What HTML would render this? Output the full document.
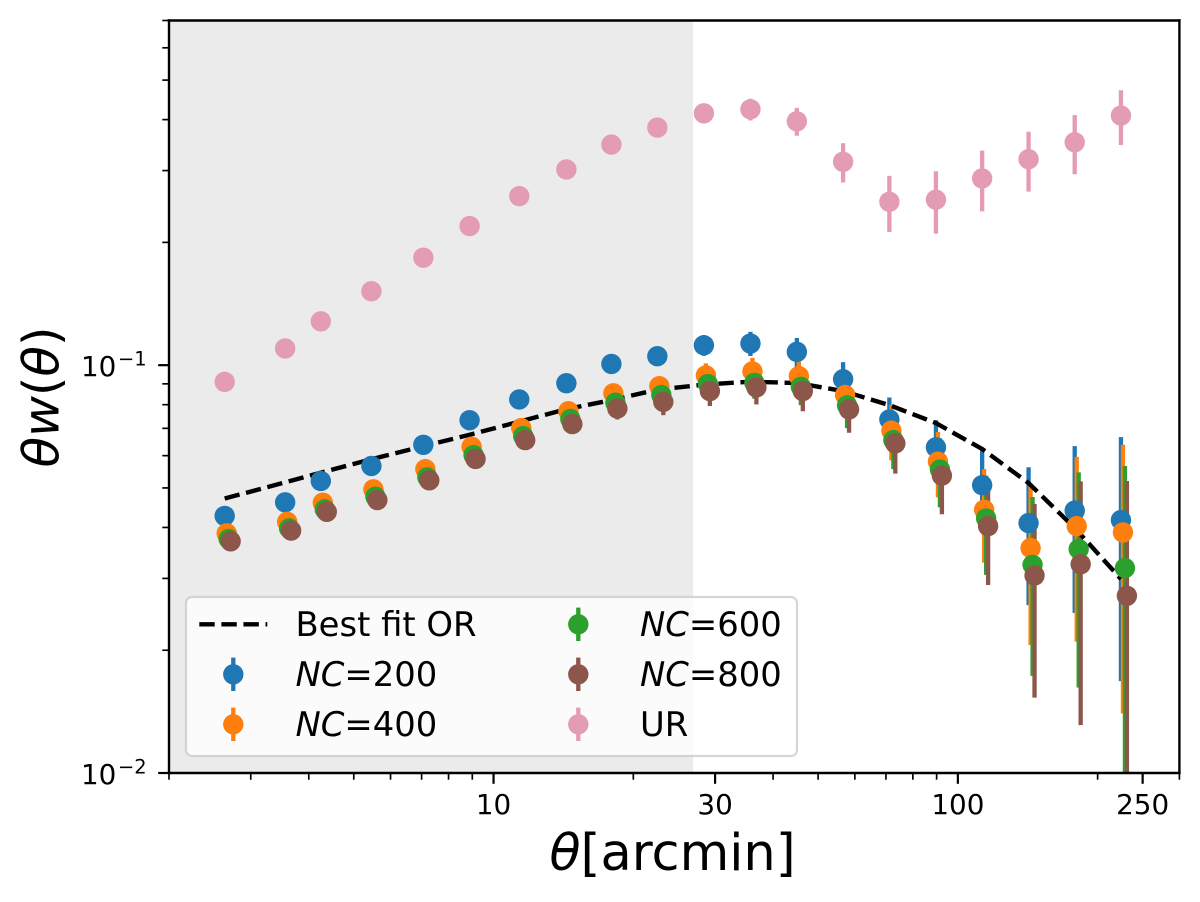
<!DOCTYPE html>
<html lang="en">
<head>
<meta charset="utf-8">
<title>Angular correlation chart</title>
<style>
  html, body { margin: 0; padding: 0; background: #fff; width: 1200px; height: 902px; overflow: hidden; }
  svg { display: block; overflow: hidden; }
  text { font-family: "DejaVu Sans", "Liberation Sans", sans-serif; fill: #000; }
</style>
</head>
<body>
<svg id="chart" xmlns="http://www.w3.org/2000/svg" width="1200" height="902" viewBox="0 0 1200 902">
  <defs>
    <clipPath id="plot-clip"><rect x="169" y="20.5" width="1010.4" height="752.5"></rect></clipPath>
  </defs>
  <rect x="0" y="0" width="1200" height="902" fill="#ffffff"></rect>
  <rect id="excluded-span" y="20.5" height="752.5" fill="#ebebeb"></rect>
  <g id="bars" clip-path="url(#plot-clip)"></g>
  <g id="fit" clip-path="url(#plot-clip)"></g>
  <g id="markers" clip-path="url(#plot-clip)"></g>
  <g id="ticks"></g>
  <g id="frame" fill="none" stroke="#000" stroke-width="2.4">
    <line x1="169" y1="19.3" x2="169" y2="774.2"></line>
    <line x1="1179.4" y1="19.3" x2="1179.4" y2="774.2"></line>
    <line x1="167.8" y1="20.5" x2="1180.6" y2="20.5"></line>
    <line x1="167.8" y1="773" x2="1180.6" y2="773"></line>
  </g>
  <text x="672.5" y="870" text-anchor="middle" font-size="51"><tspan font-style="italic">θ</tspan>[arcmin]</text>
  <text transform="translate(58.4 397) rotate(-90)" text-anchor="middle" font-size="50"><tspan font-style="italic">θw</tspan>(<tspan font-style="italic">θ</tspan>)</text>

  <g>
    <rect x="186" y="597" width="611" height="159" rx="6" ry="6" fill="#ffffff" fill-opacity="0.8" stroke="#cccccc" stroke-opacity="0.8" stroke-width="2.2"></rect>
    <g>
      <line x1="199.3" y1="624.3" x2="267.3" y2="624.3" stroke="#000" stroke-width="4.4" stroke-dasharray="15.4 6.67"></line>
      <text x="295.5" y="636" font-size="33.8">Best fit OR</text>
    </g>
    <g>
      <line x1="233.3" y1="657.6" x2="233.3" y2="691" stroke="#1f77b4" stroke-width="4.3"></line>
      <circle cx="233.3" cy="674.3" r="10.2" fill="#1f77b4"></circle>
      <text x="295.5" y="686" font-size="33.8"><tspan font-style="italic">NC</tspan>=200</text>
    </g>
    <g>
      <line x1="233.3" y1="707.6" x2="233.3" y2="741" stroke="#ff7f0e" stroke-width="4.3"></line>
      <circle cx="233.3" cy="724.3" r="10.2" fill="#ff7f0e"></circle>
      <text x="295.5" y="736" font-size="33.8"><tspan font-style="italic">NC</tspan>=400</text>
    </g>
    <g>
      <line x1="578.3" y1="607.6" x2="578.3" y2="641" stroke="#2ca02c" stroke-width="4.3"></line>
      <circle cx="578.3" cy="624.3" r="10.2" fill="#2ca02c"></circle>
      <text x="640" y="636" font-size="33.8"><tspan font-style="italic">NC</tspan>=600</text>
    </g>
    <g>
      <line x1="578.3" y1="657.6" x2="578.3" y2="691" stroke="#8c564b" stroke-width="4.3"></line>
      <circle cx="578.3" cy="674.3" r="10.2" fill="#8c564b"></circle>
      <text x="640" y="686" font-size="33.8"><tspan font-style="italic">NC</tspan>=800</text>
    </g>
    <g>
      <line x1="578.3" y1="707.6" x2="578.3" y2="741" stroke="#e49cb5" stroke-width="4.3"></line>
      <circle cx="578.3" cy="724.3" r="10.2" fill="#e49cb5"></circle>
      <text x="640" y="736" font-size="33.8">UR</text>
    </g>
  </g>
</svg>

<script>
const theta = [2.636, 3.558, 4.246, 5.457, 7.06, 8.88, 11.36, 14.35, 17.94, 22.53, 28.38, 35.75, 45.0, 56.6, 71.2, 89.7, 112.8, 142, 178.5, 224.5];

const bestFit = [0.0471, 0.0516, 0.0545, 0.0588, 0.0633, 0.0675, 0.0727, 0.0780, 0.0821, 0.0871, 0.0896, 0.0911, 0.0904, 0.0864, 0.0798, 0.0721, 0.0623, 0.0514, 0.0399, 0.0299];

const nc200 = [0.0427, 0.0461, 0.0520, 0.0566, 0.0638, 0.0733, 0.0824, 0.0903, 0.1007, 0.1052, 0.1119, 0.1130, 0.1078, 0.0924, 0.0736, 0.0629, 0.0508, 0.0410, 0.0440, 0.0417];
const nc200Err = [0.0012, 0.0012, 0.0012, 0.0013, 0.0014, 0.0016, 0.0018, 0.0020, 0.0028, 0.0035, 0.0065, 0.0077, 0.0088, 0.0093, 0.0097, 0.0104, 0.0114, 0.0152, 0.0193, 0.0249];

const nc400 = [0.0387, 0.0413, 0.0460, 0.0496, 0.0556, 0.0631, 0.0701, 0.0771, 0.0853, 0.0888, 0.0944, 0.0965, 0.0940, 0.0845, 0.0691, 0.0580, 0.0442, 0.0356, 0.0403, 0.0389];
const nc400Err = [0.0012, 0.0012, 0.0013, 0.0014, 0.0015, 0.0017, 0.0019, 0.0021, 0.0035, 0.0050, 0.0066, 0.0077, 0.0083, 0.0090, 0.0107, 0.0106, 0.0114, 0.0150, 0.0193, 0.0249];

const nc600 = [0.0375, 0.0398, 0.0443, 0.0476, 0.0531, 0.0602, 0.0670, 0.0738, 0.0809, 0.0845, 0.0899, 0.0905, 0.0885, 0.0797, 0.0655, 0.0555, 0.0421, 0.0324, 0.0354, 0.0318];
const nc600Err = [0.0012, 0.0012, 0.0013, 0.0014, 0.0015, 0.0017, 0.0019, 0.0021, 0.0030, 0.0040, 0.0060, 0.0078, 0.0087, 0.0096, 0.0099, 0.0107, 0.0115, 0.0151, 0.0192, 0.0248];

const nc800 = [0.0370, 0.0393, 0.0437, 0.0467, 0.0522, 0.0589, 0.0655, 0.0717, 0.0783, 0.0813, 0.0864, 0.0882, 0.0864, 0.0779, 0.0643, 0.0536, 0.0403, 0.0305, 0.0325, 0.0272];
const nc800Err = [0.0012, 0.0012, 0.0013, 0.0014, 0.0016, 0.0018, 0.0021, 0.0030, 0.0047, 0.0059, 0.0070, 0.0081, 0.0093, 0.0096, 0.0101, 0.0105, 0.0114, 0.0152, 0.0194, 0.0248];

const ur = [0.0910, 0.1099, 0.1281, 0.1518, 0.1835, 0.2193, 0.2597, 0.3019, 0.3475, 0.3825, 0.4146, 0.4241, 0.3963, 0.3153, 0.2516, 0.2545, 0.2870, 0.3199, 0.3520, 0.4093];
const urErr = [0.0010, 0.0012, 0.0014, 0.0017, 0.0021, 0.0026, 0.0032, 0.0038, 0.0045, 0.0055, 0.0210, 0.0260, 0.0311, 0.0348, 0.0395, 0.0443, 0.0487, 0.0535, 0.0582, 0.0628];

const xShadeLimit = 26.9;
const xMajorTicks = [10, 30, 100, 250];
const xMajorLabels = ["10", "30", "100", "250"];
const xMinorTicks = [2, 3, 4, 5, 6, 7, 8, 9, 20, 40, 50, 60, 70, 80, 90, 200, 300];
const yMajorTicks = [0.1, 0.01];
const yMajorExponents = ["\u22121", "\u22122"];
const yMinorTicks = [0.02, 0.03, 0.04, 0.05, 0.06, 0.07, 0.08, 0.09, 0.2, 0.3, 0.4, 0.5, 0.6, 0.7];
const seriesNames = ["nc200", "nc400", "nc600", "nc800", "ur"];
const seriesColors = ["#1f77b4", "#ff7f0e", "#2ca02c", "#8c564b", "#e49cb5"];
const seriesShift = [1, 1.01, 1.02, 1.03, 1];
const seriesValues = [nc200, nc400, nc600, nc800, ur];
const seriesErrors = [nc200Err, nc400Err, nc600Err, nc800Err, urErr];

const NS = "http://www.w3.org/2000/svg";
const plot = { left: 169, right: 1179.4, top: 20.5, bottom: 773 };
const xDomain = [2, 300];
const yDomain = [0.01, 0.7];

function xScale(v) {
  return plot.left + (plot.right - plot.left) * (Math.log10(v) - Math.log10(xDomain[0])) / (Math.log10(xDomain[1]) - Math.log10(xDomain[0]));
}
function yScale(v) {
  return plot.bottom - (plot.bottom - plot.top) * (Math.log10(v) - Math.log10(yDomain[0])) / (Math.log10(yDomain[1]) - Math.log10(yDomain[0]));
}
function mk(tag, attrs, parent) {
  const el = document.createElementNS(NS, tag);
  for (const key in attrs) el.setAttribute(key, attrs[key]);
  parent.appendChild(el);
  return el;
}

const span = document.getElementById("excluded-span");
span.setAttribute("x", plot.left);
span.setAttribute("width", xScale(xShadeLimit) - plot.left);

const barsLayer = document.getElementById("bars");
const fitLayer = document.getElementById("fit");
const markerLayer = document.getElementById("markers");
const tickLayer = document.getElementById("ticks");

seriesValues.forEach(function (values, s) {
  values.forEach(function (value, i) {
    const px = xScale(theta[i] * seriesShift[s]);
    const low = Math.max(value - seriesErrors[s][i], yDomain[0]);
    const high = Math.min(value + seriesErrors[s][i], yDomain[1]);
    const bar = mk("line", { x1: px, x2: px, y1: yScale(low), y2: yScale(high), stroke: seriesColors[s], "stroke-width": 4.3 }, barsLayer);
    
    
  });
});

const fitPath = mk("polyline", {
  points: bestFit.map(function (v, i) { return xScale(theta[i]) + "," + yScale(v); }).join(" "),
  fill: "none", stroke: "#000", "stroke-width": 4.4, "stroke-dasharray": "15.4 6.67"
}, fitLayer);



seriesValues.forEach(function (values, s) {
  values.forEach(function (value, i) {
    const dot = mk("circle", { cx: xScale(theta[i] * seriesShift[s]), cy: yScale(value), r: 10.2, fill: seriesColors[s] }, markerLayer);
    
    
  });
});

xMajorTicks.forEach(function (v, i) {
  const px = xScale(v);
  const tick = mk("line", { x1: px, x2: px, y1: plot.bottom, y2: plot.bottom + 10.8, stroke: "#000", "stroke-width": 2.2 }, tickLayer);
  
  
  const label = mk("text", { x: px, y: 814, "text-anchor": "middle", "font-size": 27.78 }, tickLayer);
  label.textContent = xMajorLabels[i];
  
  
});
xMinorTicks.forEach(function (v) {
  const px = xScale(v);
  const tick = mk("line", { x1: px, x2: px, y1: plot.bottom, y2: plot.bottom + 6.7, stroke: "#000", "stroke-width": 1.67 }, tickLayer);
  
  
});
yMajorTicks.forEach(function (v, i) {
  const py = yScale(v);
  const tick = mk("line", { x1: plot.left - 10.8, x2: plot.left, y1: py, y2: py, stroke: "#000", "stroke-width": 2.2 }, tickLayer);
  
  
  const base = mk("text", { x: 81, y: py + 11, "font-size": 27.78 }, tickLayer);
  base.textContent = "10";
  
  
  const exponent = mk("text", { x: 118, y: py + 0.5, "font-size": 19.44 }, tickLayer);
  exponent.textContent = yMajorExponents[i];
  
  
});
yMinorTicks.forEach(function (v) {
  const py = yScale(v);
  const tick = mk("line", { x1: plot.left - 6.7, x2: plot.left, y1: py, y2: py, stroke: "#000", "stroke-width": 1.67 }, tickLayer);
  
  
});
</script>
</body>
</html>
